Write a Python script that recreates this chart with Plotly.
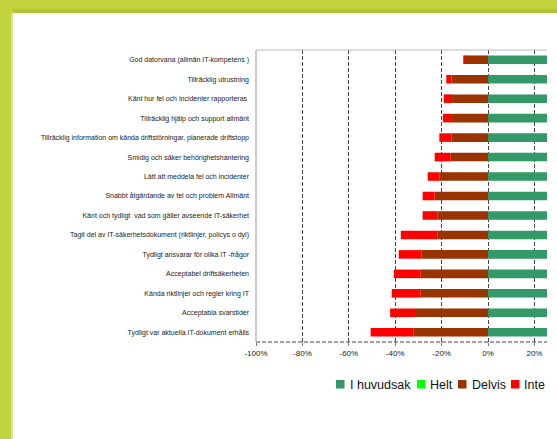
import plotly.graph_objects as go

categories = [
    "God datorvana (allmän IT-kompetens )",
    "Tillräcklig utrustning",
    "Känt hur fel och incidenter rapporteras ",
    "Tillräcklig hjälp och support allmänt",
    "Tillräcklig information om kända driftstörningar, planerade driftstopp",
    "Smidig och säker behörighetshantering",
    "Lätt att meddela fel och incidenter",
    "Snabbt åtgärdande av fel och problem Allmänt",
    "Känt och tydligt  vad som gäller avseende IT-säkerhet",
    "Tagit del av IT-säkerhetsdokument (riktlinjer, policys o dyl)",
    "Tydligt ansvarar för olika IT -frågor",
    "Acceptabel driftsäkerheten",
    "Kända riktlinjer och regler kring IT",
    "Acceptabla svarstider",
    "Tydligt var aktuella IT-dokument erhålls",
]
i_huvudsak = [55, 52, 52, 51, 50, 49, 48, 47, 46, 42, 43, 41, 40, 40, 36]
helt = [34.3, 30.0, 28.9, 29.5, 29.0, 28.0, 26.0, 24.8, 25.8, 20.4, 18.5, 18.4, 18.5, 17.8, 13.4]
delvis = [-9.9, -15.7, -15.5, -15.5, -15.7, -16.1, -20.8, -23.0, -21.7, -21.7, -28.6, -29.0, -29.0, -31.5, -32.0]
inte = [-0.8, -2.3, -3.6, -4.0, -5.3, -6.9, -5.2, -5.2, -6.5, -15.9, -9.9, -11.6, -12.5, -10.7, -18.6]
tick_vals = [-100, -80, -60, -40, -20, 0, 20]
tick_text = ["-100%", "-80%", "-60%", "-40%", "-20%", "0%", "20%"]

series = [
    ("I huvudsak", i_huvudsak, "#339966"),
    ("Helt", helt, "#00FF00"),
    ("Delvis", delvis, "#993300"),
    ("Inte", inte, "#FF0000"),
]

W, H = 557, 439
L, R, T, B = 256, 10, 50, 97
pw, ph = W - L - R, H - T - B


def px(x):
    return (x - L) / pw


def py(y):
    return (H - B - y) / ph


fig = go.Figure()
for name, vals, col in series:
    fig.add_trace(go.Bar(
        y=categories, x=vals, name=name, orientation="h",
        marker=dict(color=col, line=dict(width=0)), showlegend=False,
    ))

shapes = []
# frame
shapes.append(dict(type="rect", xref="paper", yref="paper", x0=px(-5), x1=px(W + 5), y0=py(-5), y1=py(13),
                   fillcolor="#c2d33f", line=dict(width=0), layer="below"))
shapes.append(dict(type="rect", xref="paper", yref="paper", x0=px(-5), x1=px(W + 5), y0=py(9), y1=py(13),
                   fillcolor="#b3c434", line=dict(width=0), layer="below"))
shapes.append(dict(type="rect", xref="paper", yref="paper", x0=px(-5), x1=px(13), y0=py(9), y1=py(H + 5),
                   fillcolor="#c2d33f", line=dict(width=0), layer="below"))
shapes.append(dict(type="rect", xref="paper", yref="paper", x0=px(11), x1=px(13), y0=py(13), y1=py(H + 5),
                   fillcolor="#d8e48c", line=dict(width=0), layer="below"))
# plot borders
shapes.append(dict(type="line", xref="paper", yref="paper", x0=0, x1=1, y0=1, y1=1,
                   line=dict(color="#bbbbbb", width=1)))
shapes.append(dict(type="line", xref="paper", yref="paper", x0=0, x1=1, y0=0, y1=0,
                   line=dict(color="#444444", width=1, dash="4px,2px")))
shapes.append(dict(type="line", xref="paper", yref="paper", x0=0, x1=0, y0=0, y1=1,
                   line=dict(color="#999999", width=1)))

annotations = []
# manual legend
leg_items = [("I huvudsak", "#339966", 336, 347.5), ("Helt", "#00FF00", 417, 428),
             ("Delvis", "#993300", 458, 469.5), ("Inte", "#FF0000", 511, 522)]
for name, col, sx, tx in leg_items:
    shapes.append(dict(type="rect", xref="paper", yref="paper", x0=px(sx), x1=px(sx + 8.5),
                       y0=py(388.5), y1=py(380), fillcolor=col, line=dict(width=0)))
    annotations.append(dict(text=name, xref="paper", yref="paper", x=px(tx), y=py(384.5),
                            xanchor="left", yanchor="middle", showarrow=False,
                            font=dict(size=12.5, color="#111111", family="Liberation Sans, Arial")))

fig.update_layout(
    width=W, height=H,
    margin=dict(l=L, r=R, t=T, b=B),
    barmode="relative", bargap=0.56,
    paper_bgcolor="white", plot_bgcolor="white",
    font=dict(family="Liberation Sans, Arial", color="#222222"),
    shapes=shapes, annotations=annotations,
    xaxis=dict(range=[-100, 25.4], tickvals=tick_vals, ticktext=tick_text,
               showgrid=True, griddash="4px,2px", gridcolor="#444444", gridwidth=1,
               zeroline=False, showline=False, ticks="outside", ticklen=3, tickcolor="#777777",
               tickfont=dict(size=8, color="#222222")),
    yaxis=dict(categoryorder="array", categoryarray=categories, autorange="reversed",
               showgrid=False, zeroline=False, showline=False, ticks="",
               ticklabelstandoff=6, tickfont=dict(size=7, color="#222222")),
)

fig.write_html("out.html", config={"displayModeBar": False},
               post_script="document.body.style.margin='0';document.body.style.overflow='hidden';")
